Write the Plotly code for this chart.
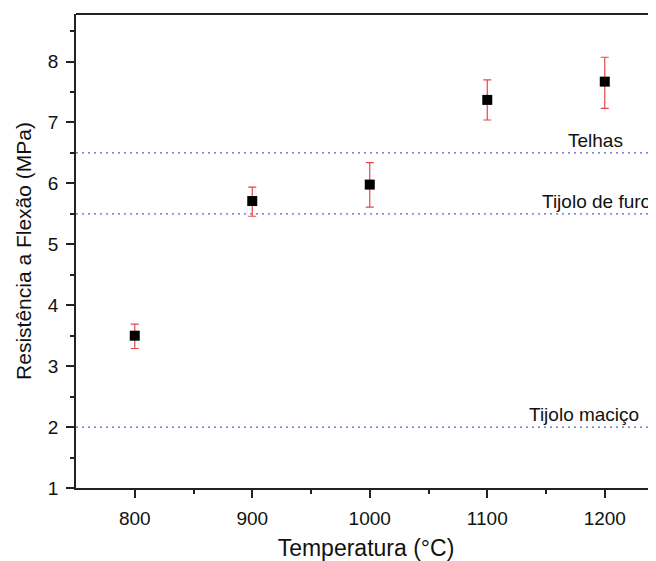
import plotly.graph_objects as go

temperatura = [800, 900, 1000, 1100, 1200]
resistencia = [3.50, 5.71, 5.98, 7.37, 7.67]
erro_sup = [0.19, 0.23, 0.36, 0.33, 0.40]
erro_inf = [0.21, 0.25, 0.37, 0.33, 0.44]

ref_nomes = ["Telhas", "Tijolo de furo", "Tijolo maciço"]
ref_valores = [6.5, 5.5, 2.0]
ref_label_x = [1167, 1145, 1134]

fig = go.Figure()

fig.add_trace(go.Scatter(
    x=temperatura, y=resistencia, mode="markers",
    marker=dict(symbol="square", size=10, color="black"),
    error_y=dict(type="data", symmetric=False, array=erro_sup, arrayminus=erro_inf,
                 color="#e8474a", thickness=1.2, width=4),
    showlegend=False,
))

for nome, v, lx in zip(ref_nomes, ref_valores, ref_label_x):
    fig.add_shape(type="line", xref="paper", x0=0, x1=1, yref="y", y0=v, y1=v,
                  line=dict(color="#5a5ad6", width=1.3, dash="2px,4px"))
    fig.add_annotation(x=lx, y=v, xref="x", yref="y", text=nome, showarrow=False,
                       xanchor="left", yanchor="bottom", yshift=0,
                       font=dict(family="Liberation Sans, Arial", size=19, color="#111"))

# top border line
fig.add_shape(type="line", xref="paper", yref="paper", x0=0, x1=1, y0=1, y1=1,
              line=dict(color="#222", width=1.8))

fig.update_layout(
    width=648, height=553,
    margin=dict(l=68, r=0, t=6, b=73),
    paper_bgcolor="white", plot_bgcolor="white",
    font=dict(family="Liberation Sans, Arial", size=19, color="#111"),
    xaxis=dict(range=[750, 1243.6], tickvals=[800, 900, 1000, 1100, 1200],
               showgrid=False, zeroline=False, showline=True, linecolor="#222", linewidth=1.8,
               ticks="outside", ticklen=8, tickwidth=1.8, tickcolor="#222",
               minor=dict(tickvals=[850, 950, 1050, 1150], ticks="outside", ticklen=4,
                          tickwidth=1.8, tickcolor="#222", showgrid=False),
               title=dict(text="Temperatura (°C)", font=dict(size=23), standoff=14),
               tickfont=dict(size=19), ticklabelstandoff=4),
    yaxis=dict(range=[1, 8.78], tickvals=[1, 2, 3, 4, 5, 6, 7, 8],
               showgrid=False, zeroline=False, showline=True, linecolor="#222", linewidth=1.8,
               ticks="outside", ticklen=8, tickwidth=1.8, tickcolor="#222",
               minor=dict(tickvals=[1.5, 2.5, 3.5, 4.5, 5.5, 6.5, 7.5, 8.5], ticks="outside",
                          ticklen=4, tickwidth=1.8, tickcolor="#222", showgrid=False),
               title=dict(text="Resistência a Flexão (MPa)", font=dict(size=21), standoff=10),
               tickfont=dict(size=19), ticklabelstandoff=4),
)

fig.write_html("out.html")
